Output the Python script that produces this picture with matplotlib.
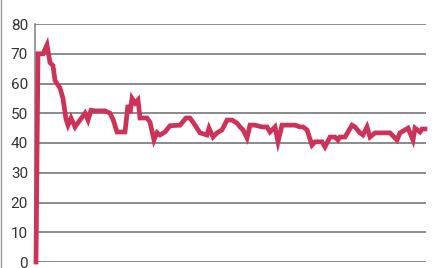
import matplotlib
matplotlib.use("Agg")
import matplotlib.pyplot as plt
from matplotlib.lines import Line2D

day = [1, 3, 8, 12, 15, 18, 20, 25, 28, 31, 33, 36, 40, 45, 50, 53, 56, 60, 70, 75,
       78, 82, 90, 93, 95, 97, 100, 103, 105, 112, 115, 119, 122, 125, 130, 135, 145, 151, 155, 160,
       165, 169, 172, 174, 178, 182, 187, 192, 197, 202, 205, 208, 212, 215, 220, 227, 232, 235, 240, 243,
       247, 260, 265, 268, 272, 277, 280, 287, 290, 295, 300, 303, 305, 310, 317, 320, 325, 328, 332, 335,
       340, 355, 362, 365, 370, 373, 375, 378, 380, 385, 387, 390]
value = [0, 70, 70, 73, 67, 66, 61, 58.5, 55, 48, 46, 48.4, 45.4, 47.7, 50, 47.7, 51, 50.8, 50.8, 50,
         48, 43.7, 43.7, 52.8, 50, 55, 53.4, 54.5, 48.4, 48.4, 47, 41, 43.5, 42.7, 43.7, 45.8, 46, 48.4, 48.4, 46,
         43.4, 43, 42.7, 45, 42, 43.4, 44.4, 47.7, 47.7, 46.7, 45.4, 44.4, 41.7, 46, 46, 45.4, 45.4, 43.7, 45.4, 40.4,
         46, 46, 45.4, 45.4, 44.4, 39.3, 40.4, 40.4, 38.7, 42, 42, 41, 42, 42, 46, 45.4, 43.4, 42.7, 45.4, 42,
         43.4, 43.4, 41, 43.4, 44.4, 45, 43.4, 41, 45, 43.7, 44.7, 44.7]
yticks = [0, 10, 20, 30, 40, 50, 60, 70, 80]

fig = plt.figure(figsize=(4.39, 2.68), dpi=100)
ax = fig.add_axes([35/439, 1-262/268, (426-35)/439, (262-24)/268])
ax.set_xlim(0, 391)
ax.set_ylim(0, 80)
ax.set_yticks(yticks)
ax.set_yticklabels([str(t) for t in yticks], fontsize=11, color="#333333", family="Roboto")
ax.set_xticks([])
ax.tick_params(axis="y", length=0, pad=5)
for s in ["top", "right", "bottom"]:
    ax.spines[s].set_visible(False)
ax.spines["left"].set_color("#888888")
ax.spines["left"].set_linewidth(1.2)
ax.yaxis.grid(True, color="#777777", linewidth=1.2)
ax.set_axisbelow(True)
ax.plot(day, value, color="#cf3259", linewidth=3.4, solid_joinstyle="miter", clip_on=False, zorder=3)

fig.add_artist(Line2D([1.5/439, 1.5/439], [0, 1], transform=fig.transFigure, color="#999999", linewidth=1))
fig.savefig("out.png", dpi=100)
